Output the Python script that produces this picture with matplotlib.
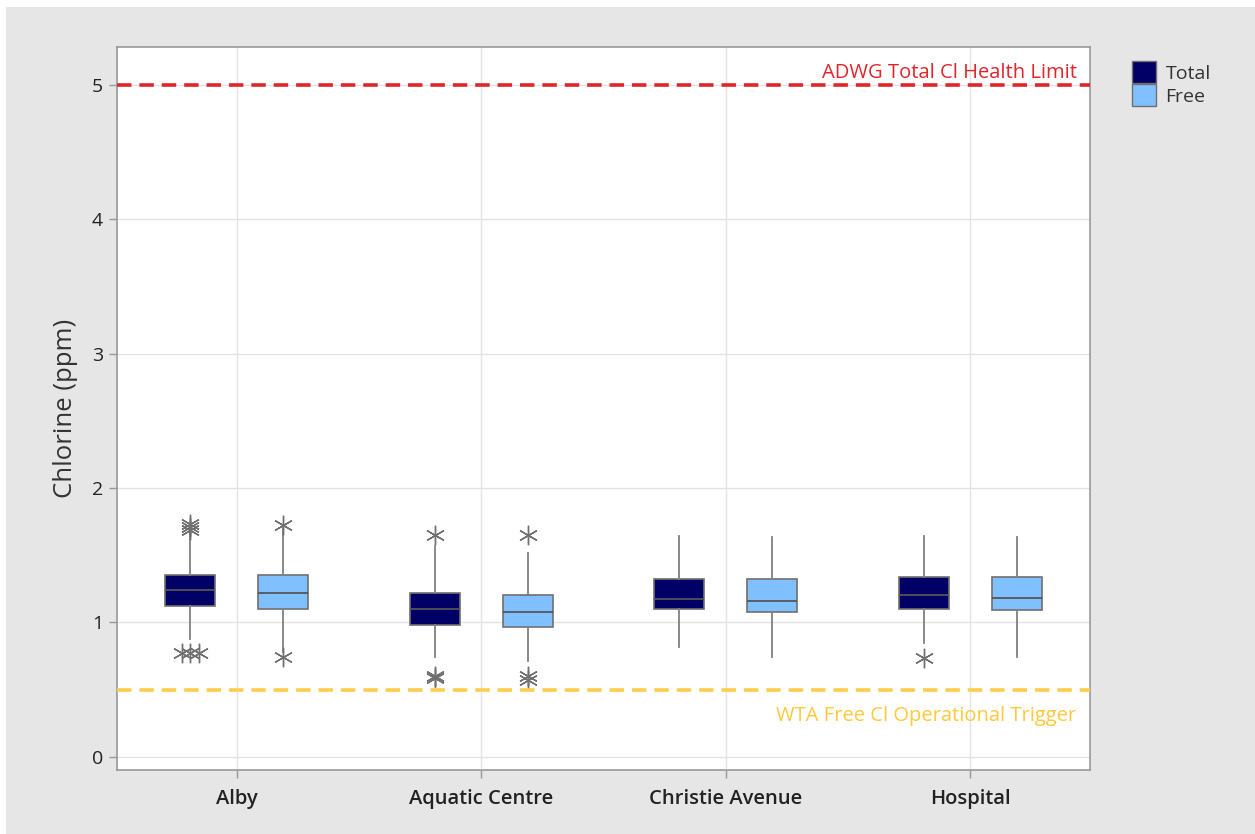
import numpy as np
import matplotlib
matplotlib.use("Agg")
import matplotlib.pyplot as plt
import matplotlib.patches as mpatches

plt.rcParams['font.family'] = ['Open Sans', 'DejaVu Sans']

# Sites and the two chlorine measures
sites = ["Alby", "Aquatic Centre", "Christie Avenue", "Hospital"]
series = ["Total", "Free"]

# Box summary per site (ppm)
total_q1 = [1.12, 0.98, 1.10, 1.10]
total_med = [1.24, 1.10, 1.175, 1.205]
total_q3 = [1.35, 1.22, 1.325, 1.34]
total_lo = [0.88, 0.74, 0.82, 0.85]
total_hi = [1.70, 1.57, 1.645, 1.645]
total_out = [[1.73, 1.71, 1.69, 0.77, 0.77, 0.77], [1.65, 0.59, 0.60], [], [0.735]]

free_q1 = [1.10, 0.97, 1.08, 1.09]
free_med = [1.22, 1.08, 1.16, 1.18]
free_q3 = [1.35, 1.205, 1.32, 1.335]
free_lo = [0.78, 0.71, 0.745, 0.74]
free_hi = [1.70, 1.52, 1.635, 1.635]
free_out = [[1.725, 0.745], [1.65, 0.60, 0.57], [], []]

health_limit = 5.0
free_trigger = 0.5

colours = {"Total": "#000066", "Free": "#80c0ff"}
offsets = {"Total": -0.19, "Free": 0.19}
box_w = 0.205

fig = plt.figure(figsize=(12.55, 8.34), dpi=100)
fig.patch.set_facecolor("white")
fig.patches.append(mpatches.Rectangle((6 / 1255, 0), 1, 1 - 7 / 834, transform=fig.transFigure,
                                      facecolor="#e6e6e6", edgecolor="none", zorder=-10))
ax = fig.add_axes([117 / 1255, 64 / 834, 973 / 1255, 723 / 834])

x = np.arange(len(sites))

stats = {
    "Total": (total_q1, total_med, total_q3, total_lo, total_hi, total_out),
    "Free": (free_q1, free_med, free_q3, free_lo, free_hi, free_out),
}

for name in series:
    q1, med, q3, lo, hi, out = stats[name]
    boxes = []
    for i in range(len(sites)):
        boxes.append(dict(q1=q1[i], med=med[i], q3=q3[i], whislo=lo[i], whishi=hi[i], fliers=[]))
    pos = x + offsets[name]
    ax.bxp(boxes, positions=pos, widths=box_w, showcaps=False, patch_artist=True,
           boxprops=dict(facecolor=colours[name], edgecolor="#707070", linewidth=1.2),
           medianprops=dict(color="#555555", linewidth=1.3),
           whiskerprops=dict(color="#808080", linewidth=1.3), zorder=3)

    # Outliers: identical values are spread sideways so they stay visible
    for i, vals in enumerate(out):
        seen = {}
        for v in vals:
            seen[v] = seen.get(v, 0) + 1
        for v, n in seen.items():
            dx = (np.arange(n) - (n - 1) / 2) * 0.035
            ax.plot(pos[i] + dx, [v] * n, linestyle="none", marker=(6, 2, 0), markersize=14,
                    markeredgewidth=1.0, color="#707070", zorder=4)

# Reference lines
ax.axhline(health_limit, color="#e0262c", linestyle=(0, (4, 2.2)), linewidth=2.6, zorder=5)
ax.axhline(free_trigger, color="#ffcc4d", linestyle=(0, (4, 2.2)), linewidth=2.6, zorder=5)
ax.text(3.435, health_limit + 0.015, "ADWG Total Cl Health Limit", color="#e0262c",
        fontsize=14.5, ha="right", va="bottom")
ax.text(3.435, free_trigger - 0.12, "WTA Free Cl Operational Trigger", color="#ffc83d",
        fontsize=14.5, ha="right", va="top")

ax.set_xlim(-0.49, 3.49)
ax.set_ylim(-0.097, 5.28)
ax.set_xticks(x)
ax.set_xticklabels(sites, fontsize=14.5, fontweight="semibold", color="#222222")
ax.set_yticks(range(0, 6))
ax.tick_params(axis="y", labelsize=14, colors="#222222", pad=4)
ax.tick_params(color="#999999", length=6, width=1)
ax.tick_params(axis="x", pad=8)
ax.set_ylabel("Chlorine (ppm)", fontsize=18.5, color="#333333", labelpad=10)

ax.grid(True, color="#e3e3e3", linewidth=1, zorder=0)
ax.set_axisbelow(True)
for s in ax.spines.values():
    s.set_color("#999999")
    s.set_linewidth(1.2)

handles = [mpatches.Patch(facecolor=colours[n], edgecolor="#707070", label=n) for n in series]
fig.legend(handles=handles, loc="upper left", bbox_to_anchor=(1114 / 1255, 1 - 44 / 834),
           frameon=False, fontsize=14, handlelength=1.25, handleheight=1.35, handletextpad=0.5,
           labelspacing=0.05, labelcolor="#333333")

fig.savefig("out.png", dpi=100)
